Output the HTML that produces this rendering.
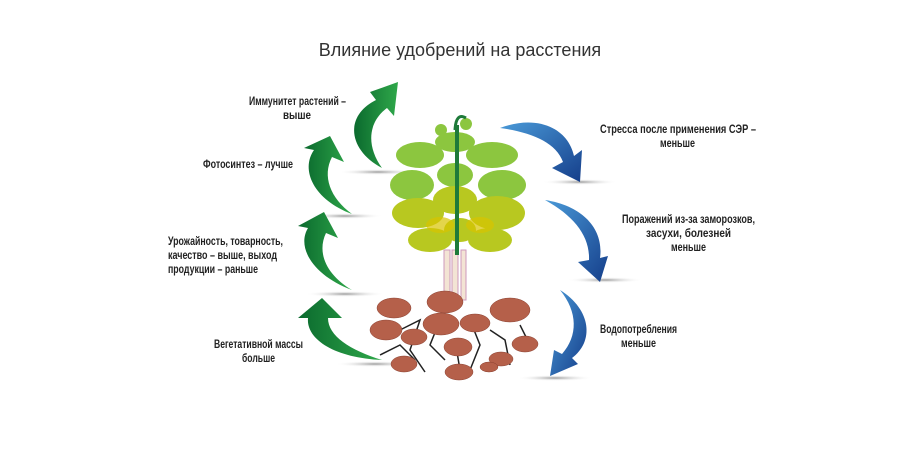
<!DOCTYPE html>
<html><head><meta charset="utf-8"><style>
body{margin:0;background:#fff;width:914px;height:466px;overflow:hidden}
svg text{font-family:"Liberation Sans","Noto Sans CJK SC",sans-serif;font-weight:bold;fill:#222}
</style></head><body>
<svg width="914" height="466" viewBox="0 0 914 466">
<defs>
<linearGradient id="g" x1="0" y1="0" x2="1" y2="0"><stop offset="0" stop-color="#0b6a2e"/><stop offset="1" stop-color="#2fa84a"/></linearGradient>
<linearGradient id="b" x1="0" y1="0" x2="1" y2="1"><stop offset="0" stop-color="#4a9ad8"/><stop offset="1" stop-color="#153e8a"/></linearGradient>
<radialGradient id="sh"><stop offset="0" stop-color="#999"/><stop offset="1" stop-color="#fff" stop-opacity="0"/></radialGradient>
</defs>
<text x="460" y="56" text-anchor="middle" font-size="18" style="font-weight:normal;fill:#333">Влияние удобрений на расстения</text>
<g fill="url(#sh)">
<ellipse cx="378" cy="172" rx="40" ry="3"/><ellipse cx="345" cy="216" rx="38" ry="3"/><ellipse cx="345" cy="294" rx="40" ry="3"/><ellipse cx="375" cy="364" rx="40" ry="3"/>
<ellipse cx="580" cy="182" rx="38" ry="3"/><ellipse cx="605" cy="280" rx="38" ry="3"/><ellipse cx="555" cy="378" rx="38" ry="3"/>
</g>
<g fill="url(#g)">
<path d="M382,168 C348,150 344,116 376,100 L370,92 L398,82 L394,116 L387,108 C368,122 366,146 382,168Z"/>
<path d="M352,214 C314,200 300,170 314,150 L304,148 L330,136 L344,162 L332,157 C322,176 330,198 352,214Z"/>
<path d="M352,290 C314,276 296,248 308,228 L298,226 L324,212 L338,238 L326,233 C316,254 328,276 352,290Z"/>
<path d="M382,360 C336,358 306,340 308,318 L298,318 L322,298 L342,318 L328,318 C328,336 350,350 382,360Z"/>
</g>
<g fill="url(#b)">
<path d="M500,128 C537,114 568,128 574,156 L582,150 L580,182 L552,168 L563,162 C556,142 530,132 500,128Z"/>
<path d="M545,200 C584,206 604,230 600,258 L608,256 L600,282 L578,262 L589,260 C590,236 574,216 545,200Z"/>
<path d="M560,290 C592,310 594,342 572,358 L578,364 L550,376 L554,350 L562,354 C578,336 578,312 560,290Z"/>
</g>
<g>
<rect x="444" y="250" width="6" height="50" fill="#f3e4d4" stroke="#c9b"/>
<rect x="452" y="250" width="6" height="50" fill="#f3e4d4" stroke="#c9b"/>
<rect x="461" y="250" width="5" height="50" fill="#f3e4d4" stroke="#c9b"/>
<g fill="#8cc63f">
<ellipse cx="420" cy="155" rx="24" ry="13"/><ellipse cx="492" cy="155" rx="26" ry="13"/><ellipse cx="455" cy="142" rx="20" ry="10"/>
<ellipse cx="412" cy="185" rx="22" ry="15"/><ellipse cx="502" cy="185" rx="24" ry="15"/><ellipse cx="455" cy="175" rx="18" ry="12"/>
</g>
<g fill="#b8c820">
<ellipse cx="418" cy="213" rx="26" ry="15"/><ellipse cx="497" cy="213" rx="28" ry="17"/><ellipse cx="455" cy="200" rx="22" ry="14"/>
<ellipse cx="430" cy="240" rx="22" ry="12"/><ellipse cx="490" cy="240" rx="22" ry="12"/><ellipse cx="460" cy="230" rx="16" ry="12"/>
</g>
<g fill="#d8c400" opacity="0.7"><ellipse cx="440" cy="225" rx="14" ry="8"/><ellipse cx="480" cy="225" rx="14" ry="8"/></g>
<rect x="455" y="125" width="4" height="130" fill="#1e7a3a"/>
<circle cx="441" cy="130" r="6" fill="#8cc63f"/><circle cx="466" cy="124" r="6" fill="#8cc63f"/>
<path d="M455,130 Q456,112 466,118" stroke="#1e7a3a" stroke-width="3" fill="none"/>
</g>
<g stroke="#222" stroke-width="1.5" fill="none">
<path d="M400,330 L420,320 L410,350 L425,372"/><path d="M440,320 L430,345 L445,360"/><path d="M470,320 L480,345 L470,370"/><path d="M490,330 L505,340 L510,365"/><path d="M380,355 L400,345 L415,360"/><path d="M455,340 L460,370"/><path d="M520,325 L530,345"/>
</g>
<g fill="#b5604a" stroke="#8a4030" stroke-width="0.5">
<ellipse cx="394" cy="308" rx="17" ry="10"/><ellipse cx="445" cy="302" rx="18" ry="11"/><ellipse cx="510" cy="310" rx="20" ry="12"/>
<ellipse cx="386" cy="330" rx="16" ry="10"/><ellipse cx="441" cy="324" rx="18" ry="11"/><ellipse cx="475" cy="323" rx="15" ry="9"/>
<ellipse cx="414" cy="337" rx="13" ry="8"/><ellipse cx="458" cy="347" rx="14" ry="9"/><ellipse cx="525" cy="344" rx="13" ry="8"/>
<ellipse cx="404" cy="364" rx="13" ry="8"/><ellipse cx="459" cy="372" rx="14" ry="8"/><ellipse cx="501" cy="359" rx="12" ry="7"/><ellipse cx="489" cy="367" rx="9" ry="5"/>
</g>
<g font-size="12">
<text x="249" y="105" textLength="97" lengthAdjust="spacingAndGlyphs">Иммунитет растений –</text>
<text x="283" y="119" textLength="28" lengthAdjust="spacingAndGlyphs">выше</text>
<text x="203" y="168" textLength="90" lengthAdjust="spacingAndGlyphs">Фотосинтез – лучше</text>
<text x="168" y="245" textLength="115" lengthAdjust="spacingAndGlyphs">Урожайность, товарность,</text>
<text x="168" y="259" textLength="109" lengthAdjust="spacingAndGlyphs">качество – выше, выход</text>
<text x="168" y="273" textLength="90" lengthAdjust="spacingAndGlyphs">продукции – раньше</text>
<text x="214" y="348" textLength="89" lengthAdjust="spacingAndGlyphs">Вегетативной массы</text>
<text x="242" y="362" textLength="33" lengthAdjust="spacingAndGlyphs">больше</text>
<text x="600" y="133" textLength="156" lengthAdjust="spacingAndGlyphs">Стресса после применения СЭР –</text>
<text x="660" y="147" textLength="35" lengthAdjust="spacingAndGlyphs">меньше</text>
<text x="622" y="223" textLength="133" lengthAdjust="spacingAndGlyphs">Поражений из-за заморозков,</text>
<text x="646" y="237" textLength="85" lengthAdjust="spacingAndGlyphs">засухи, болезней</text>
<text x="671" y="251" textLength="35" lengthAdjust="spacingAndGlyphs">меньше</text>
<text x="600" y="333" textLength="77" lengthAdjust="spacingAndGlyphs">Водопотребления</text>
<text x="621" y="347" textLength="35" lengthAdjust="spacingAndGlyphs">меньше</text>
</g>
</svg>
</body></html>
